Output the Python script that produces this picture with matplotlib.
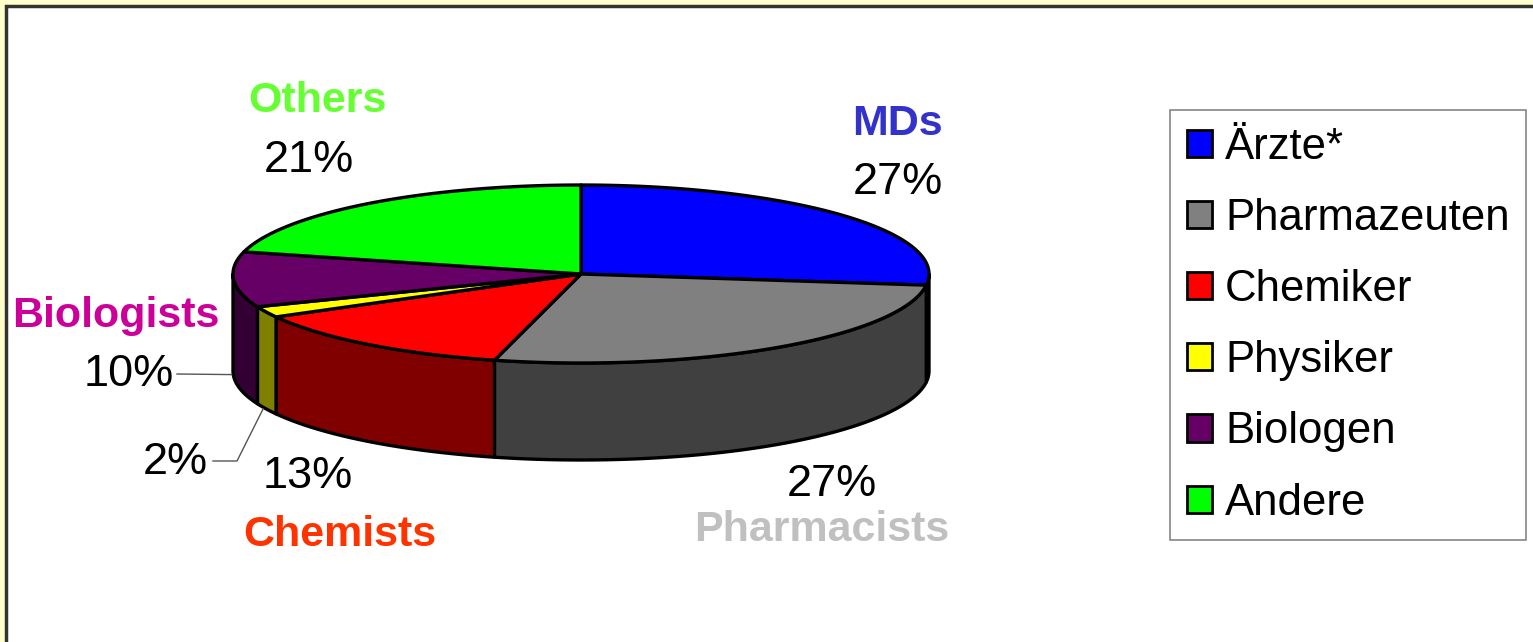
import numpy as np
import matplotlib.pyplot as plt
from matplotlib.patches import Polygon, Rectangle, Patch

plt.rcParams['font.family'] = ['Liberation Sans', 'DejaVu Sans']

# data
categories = ['Ärzte*', 'Pharmazeuten', 'Chemiker', 'Physiker', 'Biologen', 'Andere']
shares = [27, 27, 13, 2, 10, 21]
english = ['MDs', 'Pharmacists', 'Chemists', '', 'Biologists', 'Others']
top_colors = ['#0000FF', '#808080', '#FF0000', '#FFFF00', '#660066', '#00FF00']
side_colors = ['#000080', '#404040', '#800000', '#808000', '#330033', '#008000']
name_colors = ['#3333CC', '#C0C0C0', '#FF3300', '#000000', '#CC0099', '#66FF33']

W, H = 1533, 642
fig = plt.figure(figsize=(W / 100, H / 100), dpi=100, facecolor='#FFFFCC')
ax = fig.add_axes([0, 0, 1, 1])
ax.set_xlim(0, W)
ax.set_ylim(H, 0)
ax.axis('off')

# white panel
ax.add_patch(Rectangle((6, 6), 1600, 700, fc='white', ec='#333333', lw=2.5, zorder=0))

# pie geometry (pixels)
cx, cy, rx, ry, depth = 581, 274, 348, 89, 97


def rim(t):
    t = np.radians(t)
    return cx + rx * np.sin(t), cy - ry * np.cos(t)


edges = np.concatenate([[0], np.cumsum(shares)]) / sum(shares) * 360

# sides (front half only)
for i in range(len(shares)):
    a, b = max(edges[i], 90), min(edges[i + 1], 270)
    if a < b:
        t = np.linspace(a, b, 80)
        x, y = rim(t)
        pts = np.column_stack([np.r_[x, x[::-1]], np.r_[y, y[::-1] + depth]])
        ax.add_patch(Polygon(pts, closed=True, fc=side_colors[i], ec='black',
                             lw=2.4, joinstyle='round', zorder=2))

# top faces
for i in range(len(shares)):
    t = np.linspace(edges[i], edges[i + 1], 120)
    x, y = rim(t)
    pts = np.column_stack([np.r_[cx, x], np.r_[cy, y]])
    ax.add_patch(Polygon(pts, closed=True, fc=top_colors[i], ec='black',
                         lw=2.4, joinstyle='round', zorder=3))

# labels
name_pos = [(897, 124), (822, 530), (340, 535), None, (116, 316), (317, 101)]
pct_pos = [(898, 183), (832, 484), (308, 476), (175, 462), (129, 375), (309, 160)]
for i in range(len(shares)):
    if name_pos[i] is not None:
        ax.text(*name_pos[i], english[i], color=name_colors[i], fontsize=31,
                fontweight='bold', ha='center', va='center')
    ax.text(*pct_pos[i], f'{shares[i]}%', color='black', fontsize=32.5,
            ha='center', va='center')

# leader lines for the small slices on the left
for i, start in [(4, (177, 374)), (3, (213, 461))]:
    mid = (edges[i] + edges[i + 1]) / 2
    ex, ey = rim(mid)
    ey = ey + depth
    if i == 3:
        ax.plot([start[0], 237, ex - 3], [start[1], start[1], ey], color='#555555', lw=1, zorder=4)
    else:
        ax.plot([start[0], ex - 2], [start[1], ey - 2], color='#555555', lw=1, zorder=4)

handles = [Patch(fc=c, ec='black', lw=2) for c in top_colors]
leg = ax.legend(handles, categories, loc='upper left',
                bbox_to_anchor=(1170 / W, 1 - 110 / H), bbox_transform=fig.transFigure,
                fontsize=31.5, frameon=True, fancybox=False, edgecolor='#666666',
                handlelength=0.58, handleheight=0.58, handletextpad=0.3,
                labelspacing=0.69, borderpad=0.38, borderaxespad=0)
leg.get_frame().set_linewidth(1.2)

fig.savefig('out.png', dpi=100, facecolor=fig.get_facecolor())
